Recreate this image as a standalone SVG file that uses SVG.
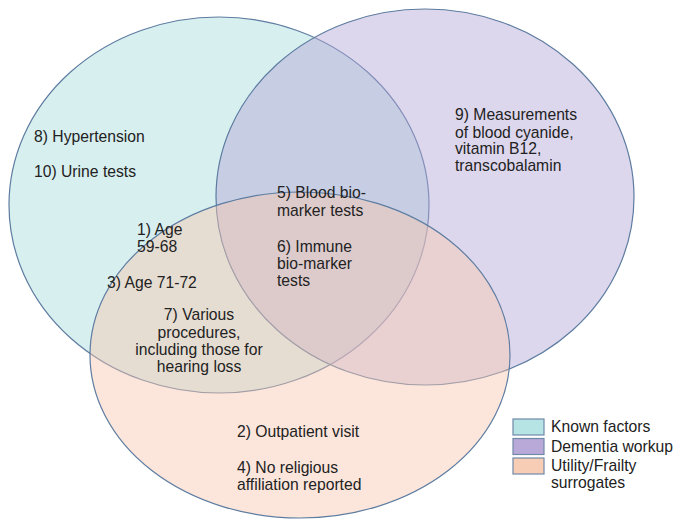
<svg xmlns="http://www.w3.org/2000/svg" width="686" height="519" viewBox="0 0 686 519">
<style>
.c{stroke:#5d7ca0;stroke-width:1.2;fill-opacity:0.45}
.t{font-family:"Liberation Sans",Arial,sans-serif;font-size:15.7px;fill:#222}
.m{text-anchor:middle}
.sw{stroke:#7089a8;stroke-width:1.2}
</style>
<rect width="686" height="519" fill="#ffffff"/>
<g id="known-factors"><ellipse class="c" cx="219" cy="205" rx="210" ry="188" fill="#a8dcdc"/></g>
<g id="dementia-workup"><ellipse class="c" cx="425" cy="197" rx="209" ry="188" fill="#b4a7d6"/></g>
<g id="utility-frailty"><ellipse class="c" cx="300" cy="355" rx="210" ry="163" fill="#f8c8b0"/></g>
<g id="connectors"></g>
<g id="labels">
<text class="t" x="34" y="142">8) Hypertension</text>
<text class="t" x="34" y="177">10) Urine tests</text>
<text class="t" x="137" y="235">1) Age</text>
<text class="t" x="137" y="252">59-68</text>
<text class="t" x="107" y="288">3) Age 71-72</text>
<text class="t" x="277" y="198">5) Blood bio-</text>
<text class="t" x="277" y="216">marker tests</text>
<text class="t" x="277" y="252">6) Immune</text>
<text class="t" x="277" y="269">bio-marker</text>
<text class="t" x="277" y="286">tests</text>
<text class="t" x="455" y="120">9) Measurements</text>
<text class="t" x="455" y="137.5">of blood cyanide,</text>
<text class="t" x="455" y="154">vitamin B12,</text>
<text class="t" x="455" y="171">transcobalamin</text>
<text class="t m" x="199" y="320">7) Various</text>
<text class="t m" x="199" y="337.5">procedures,</text>
<text class="t m" x="199" y="355">including those for</text>
<text class="t m" x="199" y="372">hearing loss</text>
<text class="t" x="237" y="437">2) Outpatient visit</text>
<text class="t" x="237" y="473">4) No religious</text>
<text class="t" x="237" y="490">affiliation reported</text>
</g>
<g id="legend">
<rect class="sw" x="513" y="419" width="31" height="16" fill="#b6e3e3"/>
<rect class="sw" x="513" y="438.5" width="31" height="16" fill="#b9a9d8"/>
<rect class="sw" x="513" y="458" width="31" height="16" fill="#f8cdb5"/>
<text class="t" x="551" y="432">Known factors</text>
<text class="t" x="551" y="452">Dementia workup</text>
<text class="t" x="551" y="471">Utility/Frailty</text>
<text class="t" x="551" y="488">surrogates</text>
</g>
</svg>
